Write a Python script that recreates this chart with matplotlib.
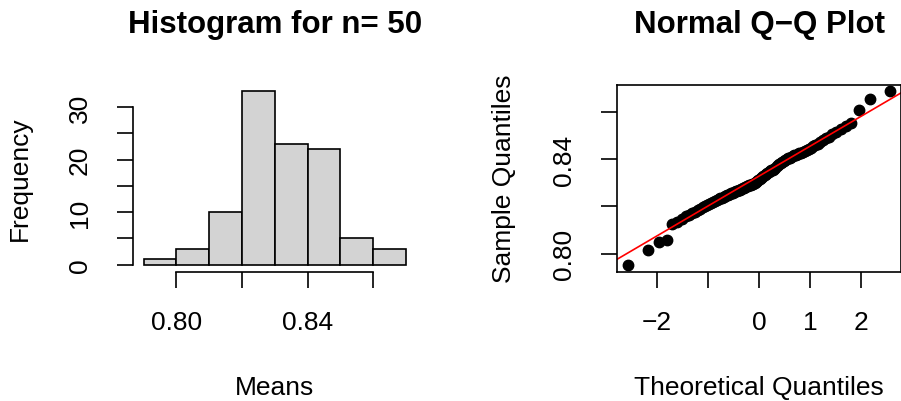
import numpy as np
import matplotlib
matplotlib.use("Agg")
import matplotlib.pyplot as plt
from statistics import NormalDist

# sample means (100 values), sorted
means = [
    0.7953,
    0.8016, 0.8049, 0.8057,
    0.8125, 0.8132, 0.8145, 0.8158, 0.8165, 0.8172, 0.8178, 0.8184, 0.8190, 0.8196,
    0.8203, 0.8207, 0.8211, 0.8215, 0.8219, 0.8223, 0.8227, 0.8231, 0.8234, 0.8238,
    0.8241, 0.8244, 0.8247, 0.8250, 0.8253, 0.8256, 0.8259, 0.8262, 0.8265, 0.8267,
    0.8270, 0.8272, 0.8275, 0.8277, 0.8280, 0.8283, 0.8285, 0.8288, 0.8290, 0.8292,
    0.8295, 0.8297, 0.8299,
    0.8304, 0.8308, 0.8312, 0.8317, 0.8321, 0.8325, 0.8329, 0.8333, 0.8337, 0.8341,
    0.8345, 0.8349, 0.8353, 0.8357, 0.8361, 0.8365, 0.8370, 0.8375, 0.8380, 0.8385,
    0.8390, 0.8394, 0.8398,
    0.8402, 0.8405, 0.8408, 0.8411, 0.8414, 0.8417, 0.8420, 0.8423, 0.8426, 0.8429,
    0.8432, 0.8436, 0.8440, 0.8444, 0.8449, 0.8455, 0.8461, 0.8467, 0.8474, 0.8481,
    0.8489, 0.8497,
    0.8506, 0.8516, 0.8528, 0.8541, 0.8556,
    0.8609, 0.8657, 0.8689,
]
breaks = [0.79, 0.80, 0.81, 0.82, 0.83, 0.84, 0.85, 0.86, 0.87]

hist_xticks = [0.80, 0.82, 0.84, 0.86]
hist_xlabels = ["0.80", "", "0.84", ""]
hist_yticks = [0, 5, 10, 15, 20, 25, 30]
hist_ylabels = ["0", "", "10", "", "20", "", "30"]
qq_xticks = [-2, -1, 0, 1, 2]
qq_xlabels = ["\u22122", "", "0", "1", "2"]
qq_yticks = [0.80, 0.82, 0.84, 0.86]
qq_ylabels = ["0.80", "", "0.84", ""]

plt.rcParams['font.family'] = ['Liberation Sans', 'DejaVu Sans']
FS = 19
TFS = 22.5
LW = 1.2

fig = plt.figure(figsize=(9.01, 4.02), dpi=100)

# histogram
ax1 = fig.add_axes([133 / 901, 1 - 272.5 / 402, 283.5 / 901, 187 / 402])
counts, _, _ = ax1.hist(means, bins=breaks, color="#D3D3D3", edgecolor="black", linewidth=LW)
ax1.set_xlim(0.79 - 0.0032, 0.87 + 0.0032)
ax1.set_ylim(-0.04 * counts.max(), counts.max() * 1.04)
for s in ["top", "right"]:
    ax1.spines[s].set_visible(False)
ax1.spines["left"].set_bounds(0, 30)
ax1.spines["bottom"].set_bounds(0.80, 0.86)
ax1.set_xticks(hist_xticks, hist_xlabels)
ax1.set_yticks(hist_yticks, hist_ylabels)
for lab in ax1.get_yticklabels():
    lab.set_rotation(90)
    lab.set_va("center")
ax1.set_title("Histogram for n= 50", fontsize=TFS, fontweight="bold", pad=38)
ax1.set_xlabel("Means", fontsize=FS, labelpad=30)
ax1.set_ylabel("Frequency", fontsize=FS, labelpad=26)

# normal Q-Q plot
n = len(means)
theo = [NormalDist().inv_cdf((i + 0.5) / n) for i in range(n)]
ax2 = fig.add_axes([617 / 901, 1 - 272.5 / 402, 284 / 901, 187 / 402])
ax2.plot(theo, means, "o", color="black", markersize=7.5)
q1, q3 = np.quantile(means, [0.25, 0.75])
z1, z3 = NormalDist().inv_cdf(0.25), NormalDist().inv_cdf(0.75)
slope = (q3 - q1) / (z3 - z1)
inter = q1 - slope * z1
xs = np.array([-4, 4])
ax2.plot(xs, inter + slope * xs, color="red", linewidth=LW)
xr = max(theo) - min(theo)
yr = max(means) - min(means)
ax2.set_xlim(min(theo) - 0.04 * xr, max(theo) + 0.04 * xr)
ax2.set_ylim(min(means) - 0.04 * yr, max(means) + 0.04 * yr)
ax2.set_xticks(qq_xticks, qq_xlabels)
ax2.set_yticks(qq_yticks, qq_ylabels)
for lab in ax2.get_yticklabels():
    lab.set_rotation(90)
    lab.set_va("center")
ax2.set_title("Normal Q\u2212Q Plot", fontsize=TFS, fontweight="bold", pad=38)
ax2.set_xlabel("Theoretical Quantiles", fontsize=FS, labelpad=30)
ax2.set_ylabel("Sample Quantiles", fontsize=FS, labelpad=26)

for ax in (ax1, ax2):
    ax.tick_params(length=11.5, width=LW, labelsize=FS, pad=16)
    ax.tick_params(axis="y", pad=18)
    for s in ax.spines.values():
        s.set_linewidth(LW)

fig.savefig("out.png", dpi=100)
